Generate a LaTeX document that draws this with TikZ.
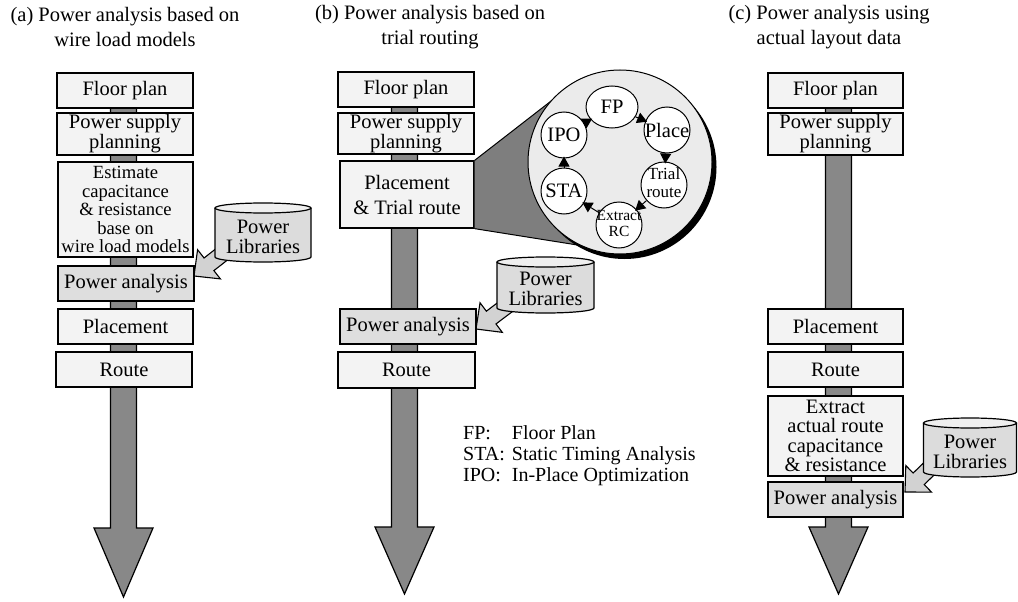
\documentclass[tikz,border=0pt]{standalone}
\usepackage{fontspec}
\setmainfont{Liberation Serif}
\usetikzlibrary{shapes.geometric,arrows.meta,calc}

\definecolor{boxfill}{HTML}{F3F3F3}
\definecolor{pafill}{HTML}{DEDEDE}
\definecolor{shaftfill}{HTML}{888888}
\definecolor{magdark}{HTML}{7E7E7E}
\definecolor{magfill}{HTML}{EBEBEB}
\definecolor{libbodyc}{HTML}{DCDCDC}
\definecolor{libtopc}{HTML}{EFEFEF}
\definecolor{libarrowc}{HTML}{D2D2D2}

\newcommand\flowarrow[4]{%
  \draw[shaft] ({#1-13},#2) -- ({#1-13},#3) -- ({#1-29.5},#3) -- (#1,#4)
    -- ({#1+29.5},#3) -- ({#1+13},#3) -- ({#1+13},#2) -- cycle;}

\newcommand\libarrow[3]{%
  \begin{scope}[shift={(#1,#2)}, x={({cos(#3)*1pt},{sin(#3)*1pt})}, y={({sin(#3)*1pt},{-cos(#3)*1pt})}]
    \draw[libarrowstyle] (0,0) -- (19,18.5) -- (19,8) -- (44,8) -- (44,-8) -- (19,-8) -- (19,-18.5) -- cycle;
  \end{scope}}

\newcommand\powerlib[5]{%
  \fill[libbodyc] ({#2-#5},{#3+5}) -- ({#2-#5},{#4-5}) arc[start angle=180,end angle=0,x radius=#5,y radius=5] -- ({#2+#5},{#3+5}) -- cycle;
  \draw[line width=1.2pt] ({#2-#5},{#3+5}) -- ({#2-#5},{#4-5}) arc[start angle=180,end angle=0,x radius=#5,y radius=5] -- ({#2+#5},{#3+5});
  \draw[line width=1.2pt, fill=libtopc] (#2,{#3+5}) ellipse[x radius=#5,y radius=5];
  \node[libtext] (#1) at (#2,{(#3+#4)/2+4}) {Power\\Libraries};}

\begin{document}
\begin{tikzpicture}[x=1pt,y=-1pt,
  txt/.style={font=\rmfamily\fontsize{20.5}{20}\selectfont, align=center},
  titletext/.style={font=\rmfamily\fontsize{20.5}{25}\selectfont, align=center, inner sep=0pt},
  stepbox/.style={txt, draw, line width=1.3pt, fill=boxfill, inner sep=0pt, minimum width=136pt},
  pabox/.style={stepbox, fill=pafill},
  shaft/.style={draw, line width=1.2pt, fill=shaftfill, line join=miter},
  libarrowstyle/.style={draw, line width=1.1pt, fill=libarrowc, line join=miter},
  libtext/.style={font=\rmfamily\fontsize{20.5}{20}\selectfont, align=center, inner sep=0pt},
  cyc/.style={draw, line width=1pt, fill=white, inner sep=0pt, circle, minimum size=46pt, font=\rmfamily\fontsize{20.5}{20}\selectfont},
  cycarrow/.style={-{Triangle[length=10pt,width=11pt]}, line width=1pt, shorten >=-2pt}
]
\useasboundingbox (0,0) rectangle (1018,602);

% titles
\node[titletext] (ta) at (125,27) {(a) Power analysis based on\\wire load models};
\node[titletext] (tb) at (430,27) {(b) Power analysis based on\\trial routing};
\node[titletext] (tc) at (829,27) {(c) Power analysis using\\actual layout data};

% flow shafts
\flowarrow{123.5}{95}{528}{597}
\flowarrow{404.5}{95}{527}{594}
\flowarrow{838.5}{95}{527}{594}

% (a)
\node[stepbox, minimum height=35pt] (fpA) at (125,90.5) {Floor plan};
\node[stepbox, minimum height=42pt] (pspA) at (125,134) {Power supply\\planning};
\node[stepbox, minimum height=95pt, minimum width=135pt, font=\rmfamily\fontsize{18.6}{18.5}\selectfont] (estA) at (125.5,209.5) {Estimate\\capacitance\\\& resistance\\base on\\wire load models};
\libarrow{194}{276}{38}
\node[pabox, minimum height=35pt] (paA) at (126,283.5) {Power analysis};
\node[stepbox, minimum height=35pt, minimum width=135pt] (plA) at (125.5,326.5) {Placement};
\node[stepbox, minimum height=35pt] (rtA) at (124,369.5) {Route};
\powerlib{libA}{263}{203}{262}{48}

% (b)
\node[stepbox, minimum height=35pt] (fpB) at (406,89.5) {Floor plan};
\node[stepbox, minimum height=41pt] (pspB) at (406,133.5) {Power supply\\planning};
\node[stepbox, minimum height=67pt, minimum width=134pt, font=\rmfamily\fontsize{20.5}{25}\selectfont] (ptrB) at (407,194.5) {Placement\\\& Trial route};
\libarrow{476}{329}{37}
\node[pabox, minimum height=35pt] (paB) at (408,326.5) {Power analysis};
\node[stepbox, minimum height=36pt, minimum width=137pt] (rtB) at (406.5,370) {Route};
\powerlib{libB}{545.5}{257}{313}{48.5}

% magnifier
\node[circle, minimum size=184pt, inner sep=0pt] (mag) at (620,162) {};
\fill[magdark] (ptrB.north east) -- (564,91) -- (mag.center) -- (590,247) -- (ptrB.south east) -- cycle;
\draw[line width=1pt] (ptrB.north east) -- (564,91);
\draw[line width=1pt] (ptrB.south east) -- (590,247);
\fill[black] ($(mag.center)+(4.5,5)$) circle (92);
\draw[fill=magfill, line width=1pt] (mag.center) circle (92);

\node[cyc, ellipse, minimum width=52pt, minimum height=42pt] (fp) at (612,107) {\makebox[0pt]{FP}};
\node[cyc] (place) at (667,130) {\makebox[0pt]{Place}};
\node[cyc] (trial) at (664,185) {\makebox[0pt]{\fontsize{17}{18}\selectfont\begin{tabular}{@{}c@{}}Trial\\route\end{tabular}}};
\node[cyc] (extr) at (619,225) {\makebox[0pt]{\fontsize{15.5}{16}\selectfont\begin{tabular}{@{}c@{}}Extract\\RC\end{tabular}}};
\node[cyc] (sta) at (564,191) {\makebox[0pt]{STA}};
\node[cyc] (ipo) at (564,135) {\makebox[0pt]{IPO}};
\draw[cycarrow] (fp) -- (place);
\draw[cycarrow] (place) -- (trial);
\draw[cycarrow] (trial) -- (extr);
\draw[cycarrow] (extr) -- (sta);
\draw[cycarrow] (sta) -- (ipo);
\draw[cycarrow] (ipo) -- (fp);

% legend
\node[anchor=west, inner sep=0pt, font=\rmfamily\fontsize{20}{21}\selectfont] (legend) at (463,456)
  {\begin{tabular}{@{}l@{\hspace{7pt}}l@{}}FP: & Floor Plan\\STA: & Static Timing Analysis\\IPO: & In-Place Optimization\end{tabular}};

% (c)
\node[stepbox, minimum height=35pt, minimum width=135pt] (fpC) at (835.5,90.5) {Floor plan};
\node[stepbox, minimum height=42pt, minimum width=135pt] (pspC) at (835.5,134) {Power supply\\planning};
\node[stepbox, minimum height=35pt, minimum width=135pt] (plC) at (835.5,326.5) {Placement};
\node[stepbox, minimum height=35pt, minimum width=135pt] (rtC) at (835.5,369.5) {Route};
\node[stepbox, minimum height=80pt, minimum width=135pt, font=\rmfamily\fontsize{20.5}{19.5}\selectfont] (exC) at (835.5,436) {Extract\\actual route\\capacitance\\\& resistance};
\libarrow{905}{492}{44}
\node[pabox, minimum height=35pt, minimum width=135pt] (paC) at (835.5,499.5) {Power analysis};
\powerlib{libC}{970}{418}{477}{46.5}
\end{tikzpicture}
\end{document}
